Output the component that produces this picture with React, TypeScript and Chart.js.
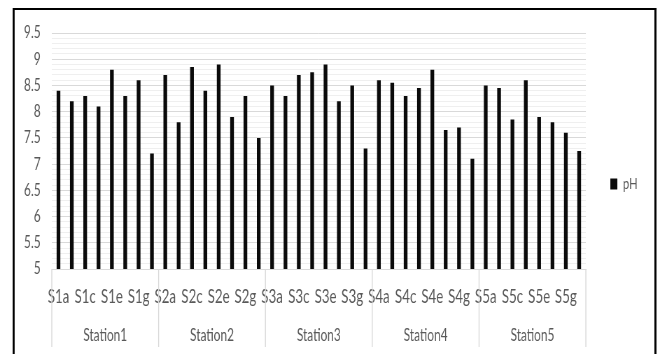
import { useEffect, useRef } from 'react';
import { Chart, registerables } from 'chart.js';

Chart.register(...registerables);

// Sample codes, eight per station
const samples = [
  'S1a', 'S1b', 'S1c', 'S1d', 'S1e', 'S1f', 'S1g', 'S1h',
  'S2a', 'S2b', 'S2c', 'S2d', 'S2e', 'S2f', 'S2g', 'S2h',
  'S3a', 'S3b', 'S3c', 'S3d', 'S3e', 'S3f', 'S3g', 'S3h',
  'S4a', 'S4b', 'S4c', 'S4d', 'S4e', 'S4f', 'S4g', 'S4h',
  'S5a', 'S5b', 'S5c', 'S5d', 'S5e', 'S5f', 'S5g', 'S5h',
];

const stations = ['Station1', 'Station2', 'Station3', 'Station4', 'Station5'];

const phValues = [
  8.4, 8.2, 8.3, 8.1, 8.8, 8.3, 8.6, 7.2,
  8.7, 7.8, 8.85, 8.4, 8.9, 7.9, 8.3, 7.5,
  8.5, 8.3, 8.7, 8.75, 8.9, 8.2, 8.5, 7.3,
  8.6, 8.55, 8.3, 8.45, 8.8, 7.65, 7.7, 7.1,
  8.5, 8.45, 7.85, 8.6, 7.9, 7.8, 7.6, 7.25,
];

const Y_MIN = 5;
const Y_MAX = 9.5;
const MINOR_STEP = 0.1;

// The chart is laid out on a wider drawing surface and shown condensed.
const VIEW_W = 660;
const VIEW_H = 354;
const SQUEEZE = 0.7;
const DRAW_W = Math.round(VIEW_W / SQUEEZE);

const TEXT = '#595959';
const FONT = 'Lato, "Open Sans", sans-serif';

const isMajor = (v: number) => {
  const r = Math.round(v * 10) / 10;
  return Math.abs(r * 2 - Math.round(r * 2)) < 1e-9;
};

// Frame around the whole figure
const framePlugin = {
  id: 'frame',
  afterDraw(chart: Chart) {
    const { ctx } = chart;
    ctx.save();
    ctx.fillStyle = '#000';
    ctx.fillRect(18, 8, 920, 2);
    ctx.fillRect(18, 8, 2.9, VIEW_H);
    ctx.fillRect(935, 8, 2.9, VIEW_H);
    ctx.restore();
  },
};

// Separators between station groups below the x axis
const groupLinesPlugin = {
  id: 'groupLines',
  afterDraw(chart: Chart) {
    const x = chart.scales.x;
    const { ctx, chartArea } = chart;
    const cw = x.getPixelForValue(1) - x.getPixelForValue(0);
    const per = samples.length / stations.length;
    ctx.save();
    ctx.strokeStyle = '#d9d9d9';
    ctx.lineWidth = 1.4;
    for (let k = 0; k <= stations.length; k++) {
      const px = k < stations.length
        ? x.getPixelForValue(k * per) - cw / 2
        : x.getPixelForValue(samples.length - 1) + cw / 2;
      ctx.beginPath();
      ctx.moveTo(px, chartArea.bottom);
      ctx.lineTo(px, 347);
      ctx.stroke();
    }
    ctx.restore();
  },
};

export default function App() {
  const canvasRef = useRef<HTMLCanvasElement | null>(null);

  useEffect(() => {
    const canvas = canvasRef.current;
    if (!canvas) return;
    const chart = new Chart(canvas, {
      type: 'bar',
      data: {
        labels: samples,
        datasets: [
          {
            label: 'pH',
            data: phValues,
            backgroundColor: '#0a0a0a',
            borderWidth: 0,
            barPercentage: 0.28,
            categoryPercentage: 1,
            xAxisID: 'x',
          },
        ],
      },
      options: {
        responsive: false,
        animation: false,
        devicePixelRatio: 1,
        layout: { padding: { left: 0, top: 14, right: 22, bottom: 0 } },
        plugins: {
          tooltip: { enabled: false },
          // empty title keeps headroom above the plot
          title: {
            display: true,
            text: '',
            font: { size: 10 },
            padding: { top: 0, bottom: 7 },
          },
          legend: {
            display: true,
            position: 'right',
            align: 'center',
            labels: {
              boxWidth: 10,
              boxHeight: 11,
              padding: 35,
              color: TEXT,
              font: { family: FONT, size: 16 },
            },
          },
        },
        scales: {
          y: {
            min: Y_MIN,
            max: Y_MAX,
            border: { display: false },
            grid: {
              drawTicks: false,
              color: (c: any) => (isMajor(c.tick.value) ? '#d9d9d9' : '#efefef'),
              lineWidth: 1,
            },
            ticks: {
              stepSize: MINOR_STEP,
              autoSkip: false,
              maxTicksLimit: 1000,
              padding: 16,
              color: TEXT,
              font: { family: FONT, size: 17 },
              callback: (v: any) => {
                const r = Math.round(Number(v) * 10) / 10;
                return isMajor(r) ? String(r) : '';
              },
            },
            afterFit: (scale: any) => {
              scale.width = 74;
            },
          },
          x: {
            type: 'category',
            position: 'bottom',
            weight: 0,
            border: { display: true, color: '#d9d9d9' },
            grid: { display: false, drawTicks: false },
            ticks: {
              autoSkip: false,
              maxRotation: 0,
              minRotation: 0,
              padding: 16,
              color: TEXT,
              font: { family: FONT, size: 19 },
              callback: (_v: any, i: number) => (i % 2 === 0 ? samples[i] : ''),
            },
            afterFit: (scale: any) => {
              scale.height = 40;
            },
          },
          x2: {
            type: 'category',
            position: 'bottom',
            weight: 1,
            labels: stations,
            offset: true,
            border: { display: false },
            grid: { display: false, drawTicks: false },
            ticks: {
              autoSkip: false,
              maxRotation: 0,
              minRotation: 0,
              padding: 16,
              color: TEXT,
              font: { family: FONT, size: 17 },
            },
            afterFit: (scale: any) => {
              scale.height = 45;
            },
          },
        },
      },
      plugins: [groupLinesPlugin, framePlugin],
    });
    return () => chart.destroy();
  }, []);

  return (
    <div
      style={{
        position: 'fixed',
        left: 0,
        top: 0,
        width: VIEW_W,
        height: VIEW_H,
        background: '#fff',
        overflow: 'hidden',
      }}
    >
      <canvas
        ref={canvasRef}
        width={DRAW_W}
        height={VIEW_H}
        style={{ width: `${VIEW_W}px`, height: `${VIEW_H}px`, display: 'block' }}
      />
    </div>
  );
}
